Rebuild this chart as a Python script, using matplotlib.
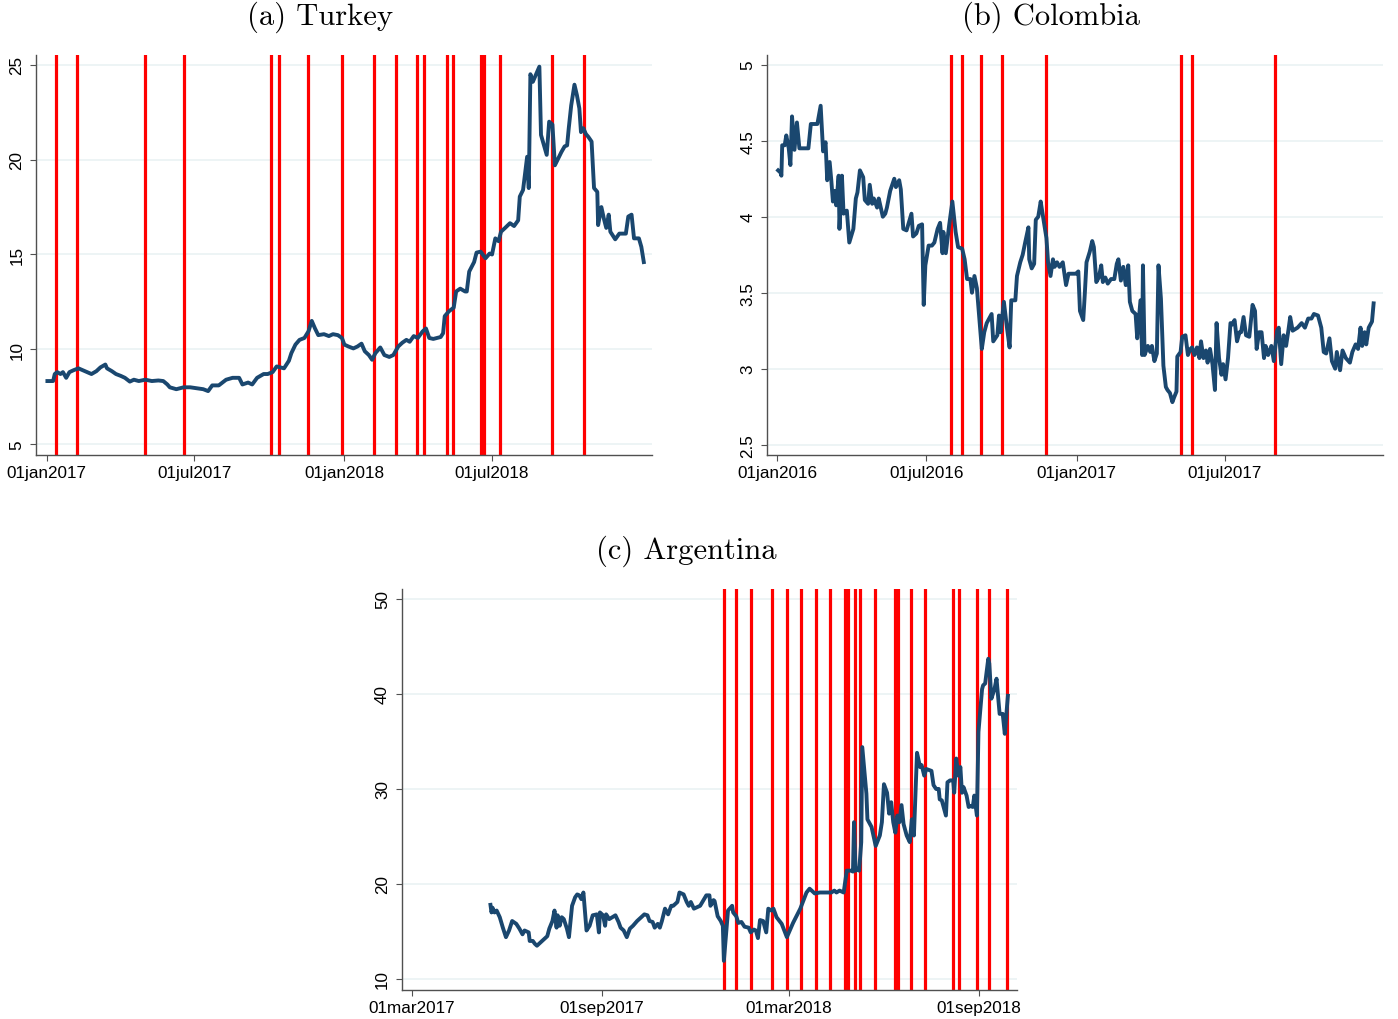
import pandas as pd
import matplotlib.pyplot as plt

# Exchange-rate series, stored as (days since start date, value)
tur_start = "2017-01-01"
tur_days = [1, 8, 10, 13, 17, 20, 24, 28, 33, 39, 47, 55, 61, 66, 72, 74, 80, 85, 91, 96,
            102, 107, 113, 121, 129, 137, 143, 148, 151, 159, 168, 176, 184, 192, 198, 203,
            211, 220, 228, 236, 240, 247, 252, 258, 266, 271, 277, 282, 291, 297, 300, 305,
            310, 316, 321, 325, 329, 333, 340, 346, 351, 357, 362, 365, 370, 376, 381, 386,
            390, 395, 399, 403, 409, 414, 420, 425, 431, 436, 441, 445, 450, 455, 461, 465,
            469, 474, 483, 486, 488, 493, 499, 502, 507, 513, 515, 518, 524, 527, 532, 538,
            543, 546, 550, 554, 557, 562, 568, 573, 578, 580, 584, 589, 591, 593, 596, 600,
            604, 606, 609, 613, 616, 620, 623, 627, 631, 635, 638, 640, 643, 647, 650, 653,
            655, 658, 661, 664, 668, 671, 675, 676, 680, 683, 686, 689, 691, 697, 702, 710,
            713, 717, 720, 726, 729, 732]
tur_vals = [8.33, 8.33, 8.7, 8.8, 8.7, 8.8, 8.5, 8.8, 8.9, 9.0, 8.85, 8.7, 8.85, 9.05, 9.2,
            9.0, 8.85, 8.7, 8.6, 8.5, 8.3, 8.4, 8.33, 8.4, 8.33, 8.36, 8.33, 8.15, 8.0, 7.9,
            8.0, 8.0, 7.95, 7.9, 7.8, 8.1, 8.1, 8.4, 8.5, 8.5, 8.15, 8.25, 8.15, 8.5, 8.7,
            8.7, 8.8, 9.1, 9.0, 9.4, 9.8, 10.25, 10.5, 10.6, 10.95, 11.5, 11.1, 10.75, 10.8,
            10.7, 10.8, 10.75, 10.6, 10.25, 10.15, 10.05, 10.15, 10.3, 9.9, 9.7, 9.45, 9.8,
            10.1, 9.7, 9.6, 9.7, 10.15, 10.35, 10.5, 10.4, 10.7, 10.6, 10.95, 11.1, 10.6,
            10.55, 10.65, 10.85, 11.75, 12.0, 12.2, 13.05, 13.2, 13.05, 13.05, 14.1, 14.6,
            15.1, 15.15, 14.8, 15.05, 15.0, 15.85, 15.7, 16.2, 16.4, 16.65, 16.5, 16.8, 18.05,
            18.4, 20.15, 18.5, 24.5, 24.1, 24.5, 24.9, 21.3, 20.85, 20.25, 22.0, 21.85, 19.7,
            20.05, 20.4, 20.7, 20.75, 21.65, 22.85, 23.95, 23.4, 22.7, 21.45, 21.65, 21.35,
            21.2, 20.95, 18.5, 18.3, 16.55, 17.5, 16.9, 16.4, 17.1, 16.2, 15.8, 16.1, 16.1,
            17.0, 17.1, 15.85, 15.85, 15.4, 14.6]
tur_events = ["2017-01-12", "2017-02-07", "2017-05-02", "2017-06-18", "2017-10-03",
              "2017-10-13", "2017-11-17", "2017-12-29", "2018-02-06", "2018-03-05",
              "2018-03-31", "2018-04-09", "2018-05-07", "2018-05-14", "2018-06-18",
              "2018-06-21", "2018-07-11", "2018-09-13", "2018-10-22"]

col_start = "2016-01-01"
col_days = [1, 4, 5, 6, 9, 11, 14, 16, 18, 21, 24, 27, 38, 41, 49, 53, 56, 59, 61, 64, 66,
            68, 70, 72, 75, 76, 79, 81, 85, 88, 93, 96, 98, 101, 105, 107, 111, 113, 116, 118,
            122, 124, 129, 132, 134, 138, 143, 145, 149, 151, 154, 158, 164, 166, 170, 173,
            177, 179, 181, 185, 189, 192, 196, 199, 202, 203, 206, 210, 214, 218, 221, 226,
            229, 232, 236, 238, 241, 244, 247, 250, 253, 256, 262, 264, 269, 271, 273, 277,
            281, 284, 286, 291, 293, 297, 300, 303, 307, 308, 311, 314, 316, 319, 322, 324,
            329, 331, 334, 337, 339, 342, 345, 349, 353, 356, 365, 368, 370, 374, 376, 378,
            382, 385, 387, 390, 393, 396, 398, 401, 404, 408, 412, 415, 417, 420, 423, 426,
            429, 431, 434, 438, 440, 444, 446, 447, 449, 453, 456, 458, 461, 464, 466, 469,
            472, 475, 477, 480, 483, 485, 488, 489, 493, 495, 499, 502, 505, 507, 510, 513,
            516, 518, 521, 524, 526, 529, 532, 535, 537, 540, 543, 545, 548, 551, 554, 556,
            559, 562, 565, 567, 570, 573, 577, 581, 584, 586, 589, 592, 595, 597, 600, 604,
            607, 611, 613, 616, 619, 622, 625, 627, 630, 636, 641, 645, 649, 653, 656, 661,
            665, 668, 671, 675, 678, 682, 684, 688, 691, 695, 700, 703, 707, 710, 713, 715,
            718, 720, 723, 727, 729]
col_vals = [4.305, 4.29, 4.27, 4.47, 4.47, 4.535, 4.45, 4.34, 4.66, 4.44, 4.62, 4.45, 4.45,
            4.61, 4.61, 4.73, 4.43, 4.49, 4.24, 4.36, 4.24, 4.10, 4.17, 4.075, 4.27, 3.92,
            4.27, 4.02, 4.04, 3.83, 3.92, 4.12, 4.16, 4.305, 4.26, 4.11, 4.085, 4.21, 4.085,
            4.12, 4.06, 4.12, 4.0, 4.02, 4.06, 4.17, 4.25, 4.195, 4.24, 4.18, 3.92, 3.91,
            4.02, 3.87, 3.89, 3.94, 3.95, 3.42, 3.68, 3.81, 3.81, 3.83, 3.92, 3.96, 3.76,
            3.90, 3.76, 3.94, 4.10, 3.90, 3.80, 3.79, 3.72, 3.59, 3.59, 3.50, 3.61, 3.53,
            3.33, 3.13, 3.24, 3.30, 3.36, 3.18, 3.22, 3.35, 3.24, 3.44, 3.26, 3.14, 3.45,
            3.45, 3.61, 3.70, 3.75, 3.83, 3.93, 3.72, 3.66, 3.69, 3.98, 4.0, 4.10, 4.03,
            3.86, 3.70, 3.61, 3.72, 3.67, 3.70, 3.67, 3.70, 3.55, 3.625, 3.625, 3.64, 3.38,
            3.32, 3.50, 3.70, 3.77, 3.84, 3.80, 3.57, 3.60, 3.68, 3.57, 3.60, 3.56, 3.59,
            3.59, 3.69, 3.72, 3.58, 3.67, 3.55, 3.68, 3.44, 3.38, 3.36, 3.20, 3.45, 3.09,
            3.68, 3.09, 3.15, 3.11, 3.15, 3.05, 3.10, 3.68, 3.46, 3.02, 2.88, 2.86, 2.84,
            2.78, 2.81, 2.85, 3.08, 3.11, 3.21, 3.22, 3.09, 3.13, 3.14, 3.09, 3.14, 3.07,
            3.18, 3.07, 3.12, 3.04, 3.13, 3.03, 2.86, 3.30, 3.07, 2.96, 3.03, 2.93, 3.07,
            3.30, 3.29, 3.32, 3.18, 3.24, 3.24, 3.34, 3.22, 3.21, 3.42, 3.38, 3.13, 3.24,
            3.24, 3.07, 3.15, 3.09, 3.15, 3.05, 3.25, 3.27, 3.03, 3.22, 3.15, 3.26, 3.34,
            3.25, 3.27, 3.30, 3.27, 3.33, 3.33, 3.36, 3.35, 3.27, 3.11, 3.10, 3.20, 3.05,
            3.0, 3.11, 2.99, 3.12, 3.07, 3.04, 3.11, 3.16, 3.13, 3.27, 3.15, 3.24, 3.16,
            3.27, 3.31, 3.43]
col_events = ["2016-07-31", "2016-08-14", "2016-09-06", "2016-10-02", "2016-11-25",
              "2017-05-08", "2017-05-22", "2017-08-31"]

arg_start = "2017-03-01"
arg_days = [76, 77, 78, 80, 82, 85, 88, 91, 94, 97, 101, 104, 107, 109, 113, 114, 117, 119,
            121, 126, 131, 133, 136, 138, 140, 141, 143, 145, 147, 150, 152, 155, 158, 160,
            162, 164, 166, 169, 172, 175, 179, 181, 182, 185, 187, 188, 191, 194, 197, 200,
            202, 205, 208, 211, 214, 218, 225, 228, 230, 233, 235, 238, 240, 242, 245, 248,
            251, 253, 257, 259, 263, 266, 268, 270, 273, 279, 285, 288, 289, 292, 293, 296,
            299, 301, 302, 304, 306, 310, 311, 314, 316, 319, 322, 326, 328, 331, 333, 335,
            337, 340, 343, 345, 348, 350, 353, 358, 363, 369, 376, 382, 385, 390, 395, 406,
            409, 411, 414, 418, 421, 425, 427, 428, 429.5, 431, 433, 435, 436, 439, 440, 441,
            445, 449, 453, 455, 457, 460, 462, 464, 466, 468, 470, 472, 474, 476, 479, 482,
            484, 486, 489, 492, 493.5, 496, 498, 503, 505, 507.5, 510, 511, 513, 517, 518.5,
            521, 524, 525, 527, 529, 531, 532.5, 534, 537, 539, 541, 543, 544.5, 547, 548.5,
            552, 553, 555, 558, 559, 561, 564, 566, 569, 572, 574, 577]
arg_vals = [17.8, 17.0, 17.5, 17.0, 17.2, 16.5, 15.4, 14.4, 15.1, 16.1, 15.8, 15.3, 14.7,
            15.1, 14.9, 14.0, 14.0, 13.7, 13.5, 14.0, 14.5, 15.3, 16.1, 17.2, 15.4, 16.7,
            15.6, 16.5, 16.3, 15.3, 14.4, 17.7, 18.6, 18.9, 18.8, 18.4, 19.1, 15.1, 15.6,
            16.7, 16.8, 14.9, 17.0, 16.7, 15.6, 16.8, 16.3, 16.5, 16.7, 16.0, 15.4, 15.1,
            14.4, 15.3, 15.6, 16.1, 16.8, 16.7, 16.1, 16.0, 15.4, 15.8, 15.4, 16.1, 17.4,
            16.8, 17.7, 17.7, 18.1, 19.1, 18.9, 18.1, 17.7, 18.1, 17.4, 17.7, 18.8, 18.8,
            17.7, 18.3, 18.2, 16.6, 16.1, 15.6, 11.9, 14.6, 17.2, 17.7, 17.0, 16.6, 15.9,
            16.0, 15.5, 15.4, 14.9, 15.2, 15.1, 14.3, 16.2, 16.1, 14.9, 17.4, 17.2, 17.4,
            16.5, 15.8, 14.4, 15.9, 17.4, 19.1, 19.5, 19.0, 19.1, 19.1, 19.3, 19.1, 19.3,
            19.1, 21.4, 21.4, 21.3, 26.5, 21.4, 21.6, 21.4, 24.4, 34.4, 30.7, 29.5, 26.8,
            26.0, 24.0, 25.1, 26.5, 30.5, 29.6, 27.4, 28.6, 26.5, 25.4, 27.2, 26.5, 28.3,
            26.3, 25.1, 24.4, 26.8, 25.1, 33.8, 32.3, 32.5, 31.4, 32.1, 31.9, 30.4, 30.0,
            30.0, 28.9, 28.8, 27.2, 30.7, 30.9, 30.9, 29.6, 33.2, 31.4, 32.3, 29.6, 30.2,
            29.3, 28.1, 28.2, 28.1, 29.3, 27.2, 36.0, 40.5, 40.9, 41.1, 43.7, 43.2, 39.5,
            40.5, 41.6, 37.9, 37.9, 35.8, 39.8]
arg_events = ["2017-12-28", "2018-01-09", "2018-01-23", "2018-02-13", "2018-02-27",
              "2018-03-13", "2018-03-27", "2018-04-10", "2018-04-24", "2018-04-27",
              "2018-05-04", "2018-05-09", "2018-05-23", "2018-06-12", "2018-06-15",
              "2018-06-27", "2018-07-11", "2018-08-07", "2018-08-13", "2018-08-30",
              "2018-09-11", "2018-09-28"]

NAVY = "#1a476f"
AXIS = "#505050"
GRID = "#eaf2f3"


def to_dates(start, days):
    return pd.Timestamp(start) + pd.to_timedelta(days, unit="D")


def panel(ax, start, days, vals, events, xlim, ylim, yticks, ylabels, xticks, xlabels):
    for ev in pd.to_datetime(events):
        ax.axvline(ev, color="red", lw=2.3, zorder=1)
    ax.plot(to_dates(start, days), vals, color=NAVY, lw=2.8, zorder=3,
            solid_joinstyle="round")
    ax.set_xlim(pd.to_datetime(xlim))
    ax.set_ylim(ylim)
    ax.set_yticks(yticks)
    ax.set_yticklabels(ylabels)
    ax.set_xticks(pd.to_datetime(xticks))
    ax.set_xticklabels(xlabels)
    ax.yaxis.grid(True, color=GRID, lw=1.2)
    ax.set_axisbelow(True)
    for s in ["top", "right"]:
        ax.spines[s].set_visible(False)
    for s in ["left", "bottom"]:
        ax.spines[s].set_color(AXIS)
        ax.spines[s].set_linewidth(1.0)
    ax.tick_params(axis="both", length=4.3, width=0.8, color=AXIS, labelsize=12.3,
                   labelcolor="black")
    ax.tick_params(axis="x", pad=3.0)
    ax.tick_params(axis="y", labelrotation=90, pad=4.0)
    for lab in ax.get_yticklabels():
        lab.set_verticalalignment("center")


plt.rcParams["font.family"] = ["Liberation Sans", "DejaVu Sans"]
fig = plt.figure(figsize=(13.98, 10.2), dpi=100)

ax1 = fig.add_axes([0.02575, 0.5529, 0.4406, 0.3925])
panel(ax1, tur_start, tur_days, tur_vals, tur_events,
      ["2016-12-19", "2019-01-13"], (4.43, 25.53),
      [5, 10, 15, 20, 25], ["5", "10", "15", "20", "25"],
      ["2017-01-01", "2017-07-01", "2018-01-01", "2018-07-01"],
      ["01jan2017", "01jul2017", "01jan2018", "01jul2018"])

ax2 = fig.add_axes([0.5484, 0.5529, 0.4406, 0.3925])
panel(ax2, col_start, col_days, col_vals, col_events,
      ["2015-12-19", "2018-01-10"], (2.432, 5.066),
      [2.5, 3, 3.5, 4, 4.5, 5], ["2.5", "3", "3.5", "4", "4.5", "5"],
      ["2016-01-01", "2016-07-01", "2017-01-01", "2017-07-01"],
      ["01jan2016", "01jul2016", "01jan2017", "01jul2017"])

ax3 = fig.add_axes([0.2873, 0.02873, 0.4403, 0.3929])
panel(ax3, arg_start, arg_days, arg_vals, arg_events,
      ["2017-02-19", "2018-10-08"], (8.87, 51.05),
      [10, 20, 30, 40, 50], ["10", "20", "30", "40", "50"],
      ["2017-03-01", "2017-09-01", "2018-03-01", "2018-09-01"],
      ["01mar2017", "01sep2017", "01mar2018", "01sep2018"])

title_kw = dict(family="cmr10", fontsize=22, ha="center", va="center")
fig.text(320 / 1398, 1 - 17 / 1020, "(a) Turkey", **title_kw)
fig.text(1051 / 1398, 1 - 17 / 1020, "(b) Colombia", **title_kw)
fig.text(686 / 1398, 1 - 551 / 1020, "(c) Argentina", **title_kw)

fig.savefig("out.png", dpi=100)
